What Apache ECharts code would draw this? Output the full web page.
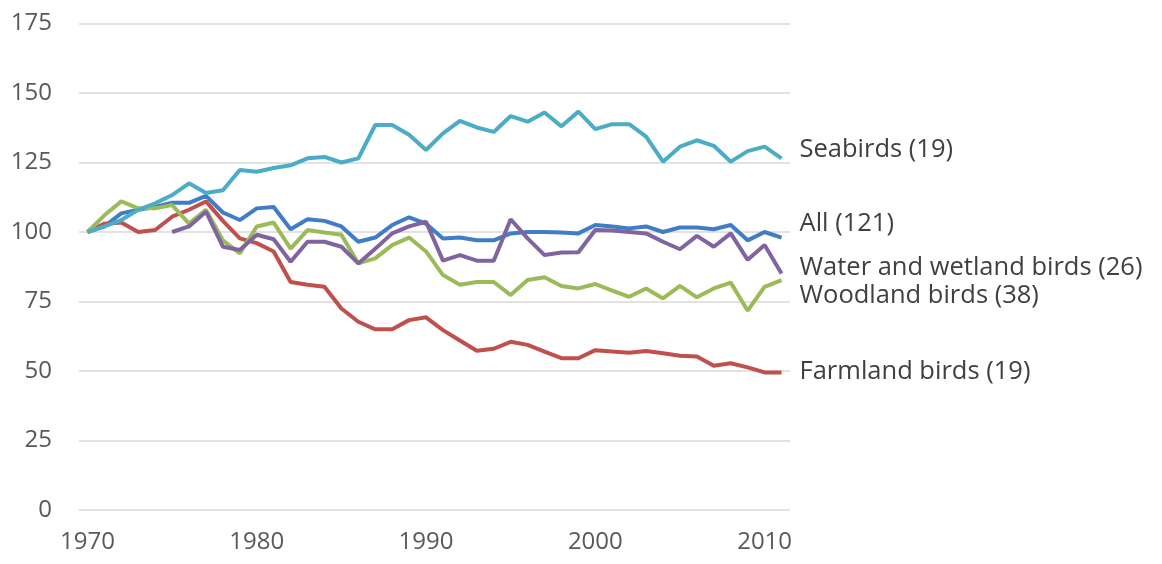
<!DOCTYPE html>
<html>
<head>
<meta charset="utf-8">
<script src="https://cdn.jsdelivr.net/npm/echarts@6/dist/echarts.min.js"></script>
<style>
  html, body { margin: 0; padding: 0; background: #fff; }
  #chart { width: 1162px; height: 564px; }
</style>
</head>
<body>
<div id="chart"></div>
<script>
  // years on the x axis
  var years = ['1970', '1971', '1972', '1973', '1974', '1975', '1976', '1977', '1978', '1979',
    '1980', '1981', '1982', '1983', '1984', '1985', '1986', '1987', '1988', '1989',
    '1990', '1991', '1992', '1993', '1994', '1995', '1996', '1997', '1998', '1999',
    '2000', '2001', '2002', '2003', '2004', '2005', '2006', '2007', '2008', '2009',
    '2010', '2011'];

  var seabirds = [100, 102, 104.3, 108, 110.3, 113.3, 117.5, 114, 115, 122.3,
    121.7, 123, 124, 126.5, 127, 125, 126.5, 138.5, 138.5, 135,
    129.5, 135.5, 140, 137.6, 136, 141.7, 139.7, 143, 138, 143.3,
    137, 138.8, 138.8, 134.3, 125.3, 130.7, 133, 131, 125.3, 129.1,
    130.7, 126.5];

  var allBirds = [100, 102, 106.7, 108, 109, 110.5, 110.5, 113, 107, 104.3,
    108.5, 109, 101, 104.6, 104, 102, 96.5, 98, 102.5, 105.3,
    103, 97.7, 98, 97, 97, 99.5, 100, 100, 99.8, 99.5,
    102.5, 102, 101.3, 102, 100, 101.6, 101.6, 101, 102.5, 97,
    100, 98];

  var waterBirds = [null, null, null, null, null, 100, 102, 107.3, 94.7, 93.5,
    99, 97.4, 89.3, 96.5, 96.5, 94.7, 88.7, 94, 99.5, 102,
    103.7, 89.7, 91.7, 89.7, 89.7, 104.6, 97.7, 91.7, 92.6, 92.7,
    100.7, 100.5, 100, 99.5, 96.5, 93.8, 98.6, 94.7, 99.5, 90,
    95.3, 85.1];

  var woodlandBirds = [100, 106, 111, 108.5, 108.5, 109.7, 103, 108, 97, 92.3,
    102, 103.4, 94, 100.7, 99.8, 99, 88.7, 90.5, 95.3, 98,
    93, 84.5, 81, 82, 82, 77.3, 82.7, 83.7, 80.6, 79.7,
    81.3, 78.9, 76.7, 79.7, 76.1, 80.6, 76.5, 79.7, 81.8, 71.7,
    80.3, 82.7];

  var farmlandBirds = [100, 103, 103.4, 100, 100.7, 105.5, 108, 111, 104, 97.7,
    96, 93, 82, 81, 80.3, 72.5, 67.7, 65, 65, 68.3,
    69.3, 64.7, 61, 57.3, 58, 60.5, 59.4, 57, 54.6, 54.6,
    57.5, 57, 56.6, 57.2, 56.4, 55.5, 55.2, 51.9, 52.8, 51.3,
    49.5, 49.5];

  var yTicks = [0, 25, 50, 75, 100, 125, 150, 175];

  var fontFamily = '"Open Sans", sans-serif';

  function makeLine(name, data, color, offset) {
    return {
      name: name,
      type: 'line',
      data: data,
      symbol: 'none',
      connectNulls: false,
      lineStyle: { color: color, width: 4 },
      itemStyle: { color: color },
      endLabel: {
        show: true,
        formatter: name,
        distance: 0,
        offset: offset,
        color: '#404040',
        fontSize: 25.5,
        fontFamily: fontFamily
      }
    }
  }

  var chart = echarts.init(document.getElementById('chart'));
  chart.setOption({
    animation: false,
    grid: { left: 79, right: 372, top: 23.5, bottom: 54 },
    xAxis: {
      type: 'category',
      boundaryGap: true,
      data: years,
      axisLine: { show: false },
      axisTick: { show: false },
      axisLabel: {
        interval: function (i, v) { return Number(v) % 10 === 0; },
        color: '#595959',
        fontSize: 24,
        fontFamily: fontFamily,
        margin: 20
      }
    },
    yAxis: {
      type: 'value',
      min: yTicks[0],
      max: yTicks[yTicks.length - 1],
      interval: 25,
      axisLine: { show: false },
      axisTick: { show: false },
      axisLabel: {
        color: '#595959',
        fontSize: 24,
        fontFamily: fontFamily,
        margin: 27
      },
      splitLine: { lineStyle: { color: '#d9d9d9', width: 1.5 } }
    },
    series: [
      makeLine('All (121)', allBirds, '#3f7dc6', [18, -14]),
      makeLine('Farmland birds (19)', farmlandBirds, '#c0504d', [18, -1]),
      makeLine('Woodland birds (38)', woodlandBirds, '#9bbb59', [18, 16]),
      makeLine('Water and wetland birds (26)', waterBirds, '#8064a2', [18, -6]),
      makeLine('Seabirds (19)', seabirds, '#4bacc6', [18, -9])
    ]
  });
</script>
</body>
</html>
